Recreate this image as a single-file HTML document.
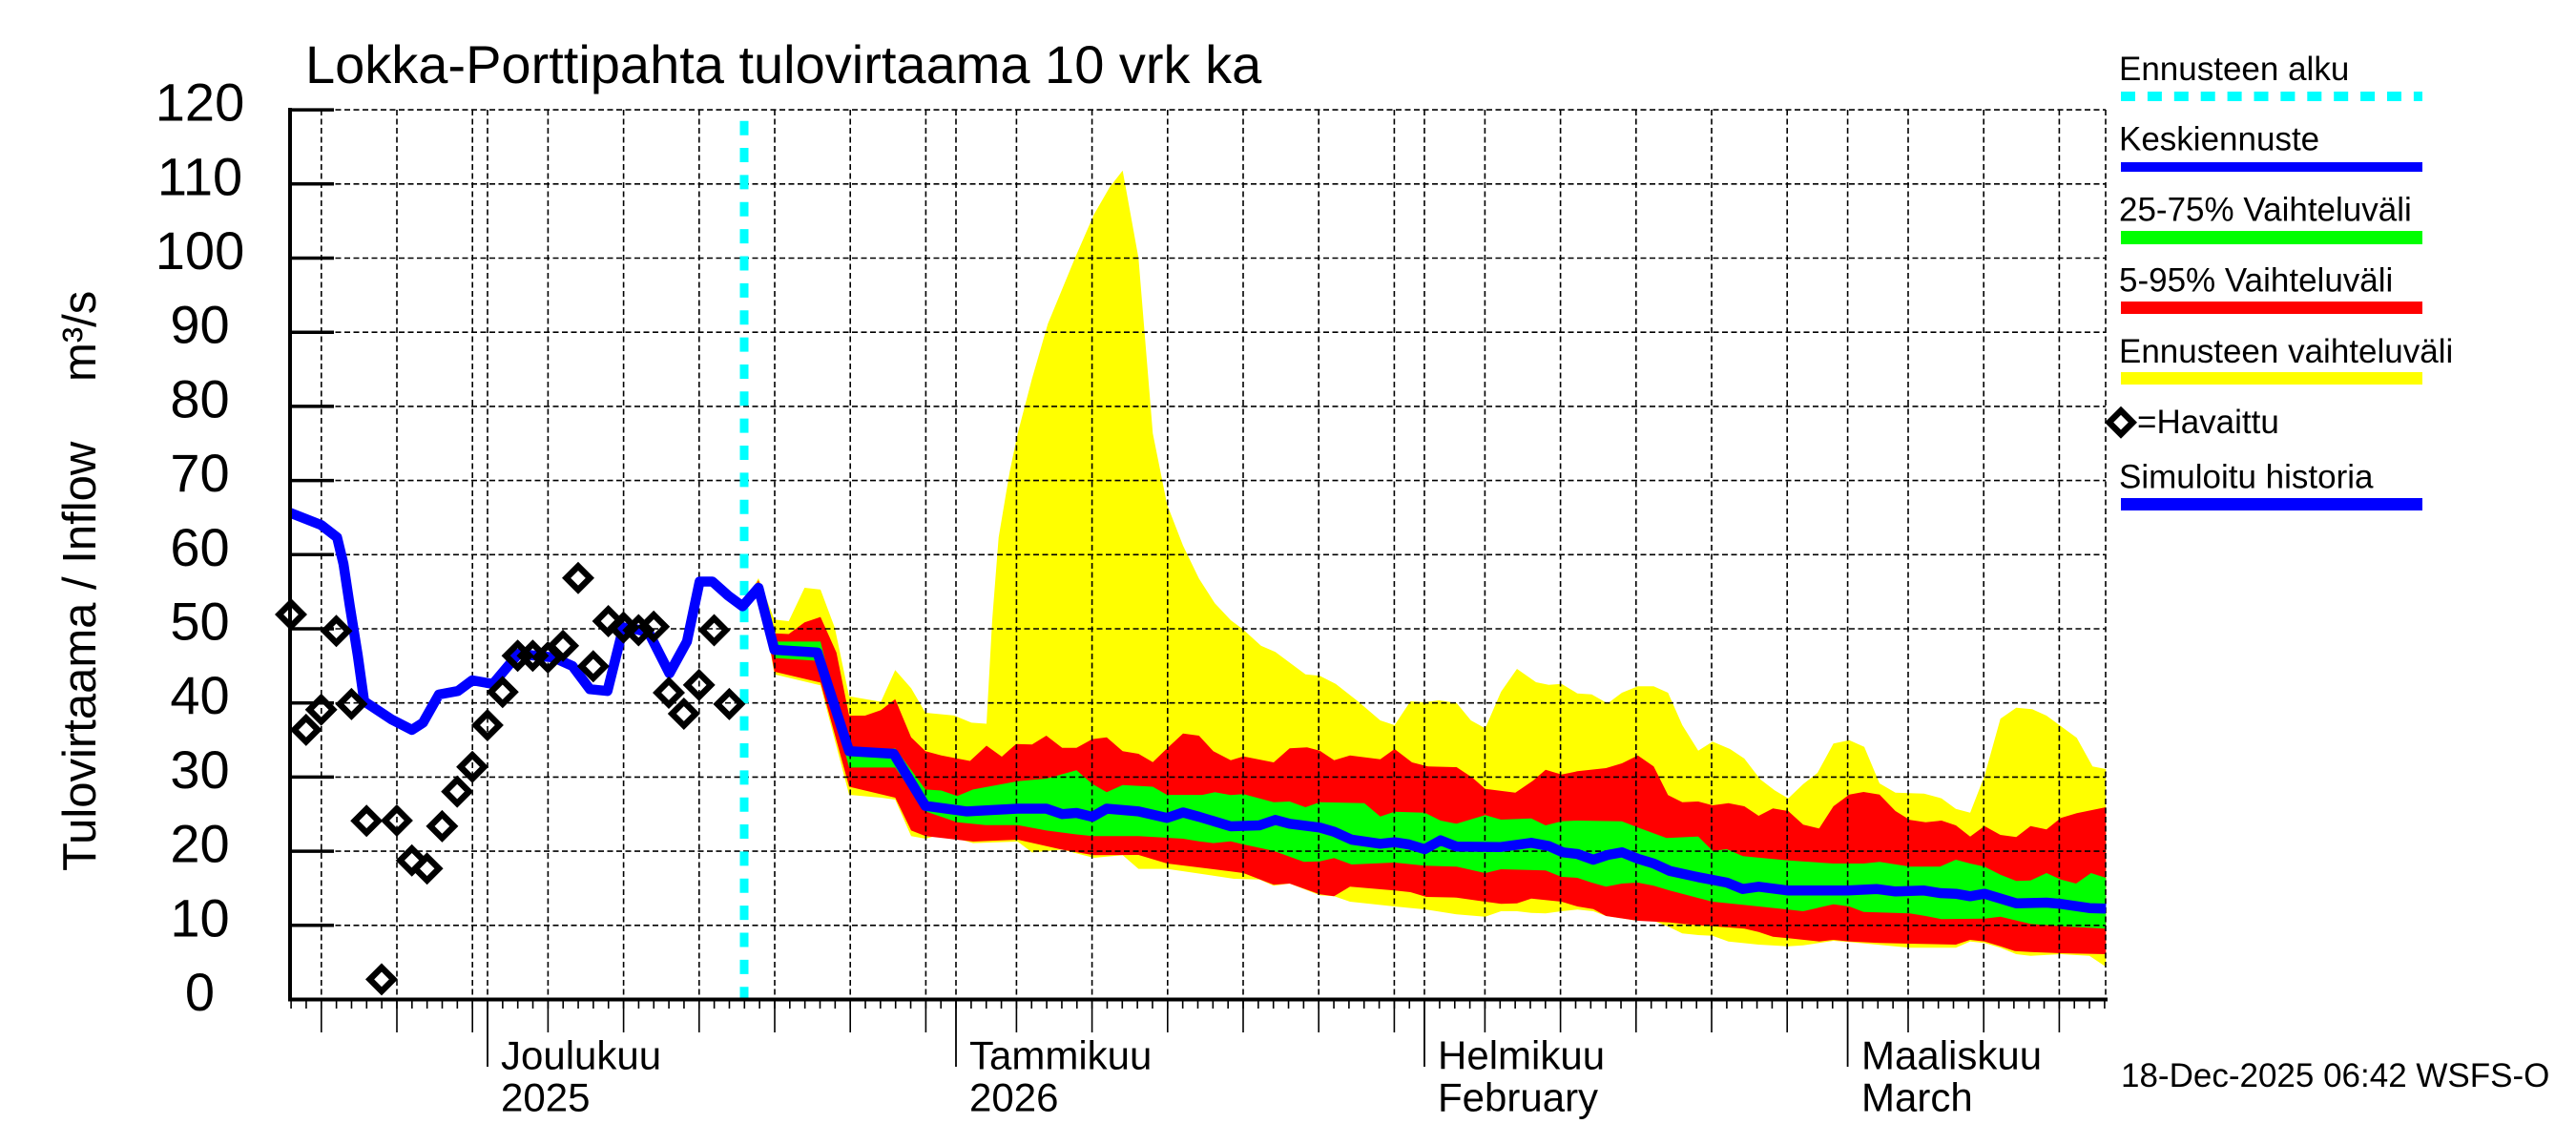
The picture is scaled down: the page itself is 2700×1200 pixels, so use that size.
<!DOCTYPE html>
<html><head><meta charset="utf-8"><style>
html,body{margin:0;padding:0;background:#fff;}
svg{display:block;}
text{font-family:"Liberation Sans",Arial,sans-serif;fill:#000;}
</style></head><body>
<svg width="2700" height="1200" viewBox="0 0 2700 1200" xmlns="http://www.w3.org/2000/svg">
<rect x="0" y="0" width="2700" height="1200" fill="#fff"/>
<defs><clipPath id="pc"><rect x="304" y="100" width="1904" height="948"/></clipPath></defs>

<!-- title -->
<text x="320" y="87" font-size="56">Lokka-Porttipahta tulovirtaama 10 vrk ka</text>

<!-- y axis title -->
<text transform="translate(100,913) rotate(-90)" font-size="49">Tulovirtaama / Inflow</text>
<text transform="translate(100,400) rotate(-90)" font-size="49">m³/s</text>

<!-- y tick labels -->
<g font-size="56" text-anchor="middle">
<text x="209.5" y="1059">0</text>
<text x="209.5" y="981.3">10</text>
<text x="209.5" y="903.6">20</text>
<text x="209.5" y="825.9">30</text>
<text x="209.5" y="748.2">40</text>
<text x="209.5" y="670.5">50</text>
<text x="209.5" y="592.8">60</text>
<text x="209.5" y="515.1">70</text>
<text x="209.5" y="437.4">80</text>
<text x="209.5" y="359.7">90</text>
<text x="209.5" y="282">100</text>
<text x="209.5" y="204.3">110</text>
<text x="209.5" y="126.6">120</text>
</g>

<g clip-path="url(#pc)">
<!-- yellow -->
<polygon fill="#ffff00" points="780,632 795,606 811.7,649.4 826.7,651 843.3,616 860,617.9 875,658 890,729.8 923.3,735.5 938.3,702.2 955,721.2 970,747 1000,749.9 1018.3,757.4 1034,758.5 1040,649.4 1046.7,563.3 1058.3,494.4 1066.7,454.3 1081.7,396.8 1098.3,339.4 1126.7,270.5 1146.7,224.6 1163.3,195.9 1176.7,178.7 1193.3,270.5 1208.3,454.3 1223.3,528.9 1240,571.9 1256.7,606.4 1273.3,632.2 1290,650 1303.3,660 1321.7,676.7 1336.7,683.3 1368.3,706.7 1383.3,708.3 1400,716.7 1423.3,735 1446.7,755 1461.7,760 1478.3,735 1493.3,736 1508.3,734 1526.7,736.7 1541.7,755 1556.7,763.3 1573.3,725 1590,701 1610,715 1623.3,717.7 1636.7,716.7 1653.3,726.7 1668.3,727.7 1685,737.3 1700,726 1716.7,719.3 1733.3,719.3 1748.3,726 1763.3,760 1780,786.7 1795,777.3 1813.3,785 1828.3,795 1845,816.7 1860,828.3 1874.3,836.7 1890,821.7 1905,810 1921.7,779.3 1938.3,775.7 1954,782.7 1970,821 1986.7,830.7 2016.7,831.7 2035,836.7 2050,847.7 2065,851.7 2080,813.3 2096.7,753.3 2113.3,741.7 2130,743.3 2145,750 2160,761 2176.7,773.3 2193.3,803.3 2207.3,806 2207.3,1013.3 2190,1001.7 2160,1000 2128.3,1001.7 2113.3,1000 2096.7,993.3 2080,988.3 2065,986.7 2050,993.3 2001.7,993.3 1938.3,987.3 1921.7,986 1890,990.7 1874.3,991.7 1843.3,990 1811.7,986.7 1795,980.7 1780,980 1763.3,978.3 1750,971.7 1733.3,965 1716.7,965 1683.3,960 1670,955 1653.3,953.3 1636.7,955 1620,957.3 1605,956.7 1590,955 1573.3,955 1556.7,960.7 1526.7,958.3 1495,953.3 1461.7,950 1415,945 1398.3,939.3 1383.3,938.3 1351.7,926 1335,928.3 1320,921.7 1293.3,921 1223.3,910.6 1193.3,910.6 1176.7,896.3 1146.7,899 1113.3,890.5 1081.7,893.4 1066.7,882 1020,883.6 986.7,874.5 970,879 955,876.2 938.3,838 923.3,836 890,833 860,718.3 811.7,706.8 795,612 780,635"/>
<!-- red -->
<polygon fill="#ff0000" points="783,630 795,608 811.7,663.8 826.7,664.5 843.3,652.3 860,646.6 876.7,683.9 890,750 906.7,750 923.3,744.2 938.3,732.7 955,772.8 970,787.2 986.7,791.8 1016.7,797.5 1034,781.5 1050,793 1065,779.7 1081.7,780.3 1096.7,771 1113.3,783.8 1128.3,783.8 1145,774.6 1160,772.8 1176.7,787.2 1193.3,790 1208.3,798.7 1223.3,784.3 1240,768.8 1256.7,771 1271.7,787.2 1290,796.7 1303.3,792.7 1335,799 1351.7,784.3 1370,783.3 1383.3,786.7 1398.3,796.7 1415,791.7 1446.7,795.7 1461.7,785 1480,799 1496.7,803.3 1526.7,804 1543.3,815 1556.7,826.7 1588.3,830.7 1606.7,818.3 1620,806.7 1636.7,811.7 1653.3,808.3 1683.3,805 1700,800 1716.7,791.7 1733.3,803.3 1748.3,833.3 1763.3,840.7 1780,840 1795,844 1811.7,841.7 1828.3,845 1843.3,855 1858.3,847.3 1874.3,850 1890,864.3 1906.7,868.3 1921.7,845 1938.3,832.7 1953.3,830 1970,832.7 1986.7,850 2001.7,859.3 2018.3,861.7 2035,860 2050,865 2065,876.7 2080,865.7 2096.7,875 2113.3,877.3 2128.3,865.7 2145,869.3 2160,857.3 2176.7,852.3 2207.3,846 2207.3,1000 2160,999 2128.3,997.7 2111.7,996.7 2096.7,991.7 2080,986.7 2065,985 2050,990 2001.7,989 1970,988.3 1938.3,986.7 1921.7,985 1906.7,986.7 1874.3,983.3 1858.3,981.7 1843.3,976.7 1828.3,973.3 1795,970.7 1763.3,968.3 1750,966.7 1716.7,965 1683.3,960 1670,952.7 1653.3,950 1636.7,945 1605,941.7 1590,946.7 1573.3,947.3 1556.7,945 1526.7,940.7 1495,940 1478.3,935 1461.7,933.3 1415,929.3 1398.3,939.3 1383.3,937.3 1351.7,926 1335,927.3 1303.3,915 1290,913.3 1223.3,905 1193.3,896 1146.7,896.3 1113.3,890.5 1066.7,880 1020,882 970,876.2 955,870.4 938.3,836 890,824.5 860,715.4 811.7,704 795,612 783,633"/>
<!-- green -->
<polygon fill="#00ff00" points="785,630 795,610 811.7,672.4 860,672.4 890,793 938.3,784.3 970,827.4 986.7,828.5 1003.3,834.3 1020,827.4 1066.7,818.8 1096.7,816 1128.3,807.3 1145,821.6 1160,830.3 1176.7,822.8 1208.3,824.5 1223.3,833.1 1260,833.1 1273.3,830.3 1290,833.3 1303.3,832.3 1335,840.7 1351.7,840 1368.3,846 1383.3,840.7 1430,841.7 1446.7,855.7 1461.7,850.7 1493.3,851.7 1510,860 1526.7,863.3 1556.7,854.3 1573.3,859 1605,857.7 1620,865 1636.7,860.7 1653.3,860 1700,860.7 1716.7,867.3 1746.7,878.3 1780,876.7 1795,891.7 1810,890 1826.7,897.3 1874.3,901.7 1921.7,905 1953.3,905 1970,903.3 2001.7,908.3 2033.3,908.3 2050,901 2065,905 2080,908.3 2096.7,916.7 2113.3,923.3 2128.3,922.7 2145,915 2160,921.7 2176,926 2191.7,915 2207.3,920 2207.3,973.3 2160,970.7 2128.3,968.3 2096.7,960.7 2080,962.7 2035,963.3 2018.3,960 2001.7,957.3 1953.3,955.7 1938.3,950 1921.7,947.7 1890,955 1874.3,953.3 1826.7,948.3 1795,945 1750,933.3 1733.3,928.3 1716.7,925 1700,926 1683.3,929.3 1668.3,925 1653.3,920 1636.7,919 1620,912.3 1573.3,911 1556.7,915 1526.7,908.3 1493.3,907.3 1461.7,904 1416.7,906 1398.3,899.3 1383.3,902.7 1366.7,903.3 1335,891.7 1303.3,885 1290,881.7 1271.7,883.6 1256.7,881.8 1240,879 1193.3,876.2 1145,876.2 1128.3,874.5 1096.7,870.4 1066.7,864.7 1033,864.7 1003.3,861.8 970,850.4 938.3,804.4 890,804.4 860,692.8 811.7,689.6 795,614 785,634"/>

<!-- grid -->
<g stroke="#000" stroke-width="1.6" stroke-dasharray="6 3.5" fill="none">
<path d="M304 969.8H2207M304 892.1H2207M304 814.4H2207M304 736.7H2207M304 659H2207M304 581.3H2207M304 503.6H2207M304 425.9H2207M304 348.2H2207M304 270.5H2207M304 192.8H2207M304 115.1H2207"/>
<path d="M336.8 115V1047M416 115V1047M495.2 115V1047M511 115V1047M574.4 115V1047M653.6 115V1047M732.8 115V1047M812 115V1047M891.2 115V1047M970.4 115V1047M1002 115V1047M1065.4 115V1047M1144.6 115V1047M1223.8 115V1047M1303 115V1047M1382.2 115V1047M1461.4 115V1047M1493 115V1047M1556.4 115V1047M1635.6 115V1047M1714.8 115V1047M1794 115V1047M1873.2 115V1047M1936.6 115V1047M2000 115V1047M2079.2 115V1047M2158.4 115V1047M2207 115V1047"/>
</g>

<!-- cyan forecast start -->
<line x1="780" y1="126.7" x2="780" y2="1047" stroke="#00ffff" stroke-width="9" stroke-dasharray="15 13.36"/>

<!-- blue line -->
<polyline fill="none" stroke="#0000ff" stroke-width="10.5" stroke-linejoin="round" points="303,537 336.7,550.3 353.3,563.2 360,591 366.7,635.4 375,687 381.7,735 410,753.8 431.7,764.9 443.3,757.5 460,727.9 480,724.2 495,713 516.7,716.8 543.3,685.3 580,689 600,698 618.3,722.3 636.7,724.2 653.3,657.6 666.7,659.4 680,663 701.7,705.7 720,672.4 733.3,609.5 746.7,609.5 763.3,624.3 778.3,635.4 795,616 811.7,681 856.7,683.9 890,787.2 936.7,790 970,844.6 1013.3,850.4 1066.7,847.5 1096.7,847.5 1113.3,853.2 1128.3,852 1145,856 1160,847.5 1193.3,850.4 1223.3,857.2 1240,851.5 1256.7,856 1290,866 1320,865 1336.7,859.3 1351.7,863.3 1383.3,867.3 1398.3,871.7 1416.7,880 1446.7,884.3 1461.7,882.7 1476.7,885 1493.3,890 1510,880.7 1526.7,887.3 1573.3,887.7 1605,883.3 1623.3,886.7 1638.3,893.3 1653.3,895 1670,901 1685,896 1700,893.3 1716.7,900 1733.3,905 1750,912.7 1780,919.3 1810,925 1826.7,931.7 1843.3,929.3 1874.3,933.3 1936.7,933.3 1966.7,931.7 1986.7,934.3 2016.7,933.3 2033.3,936 2050,936.7 2065,939.3 2080,936.7 2096.7,941.7 2113.3,946.7 2145,946 2160,947.3 2190,951.7 2207.3,952.3"/>
</g>

<!-- observed diamonds -->
<g fill="none" stroke="#000" stroke-width="6.5" stroke-linejoin="miter">
<path d="M305 631.6l12.4 12.4l-12.4 12.4l-12.4 -12.4z"/>
<path d="M320.8 752.5l12.4 12.4l-12.4 12.4l-12.4 -12.4z"/>
<path d="M336.7 731.4l12.4 12.4l-12.4 12.4l-12.4 -12.4z"/>
<path d="M352.5 648.9l12.4 12.4l-12.4 12.4l-12.4 -12.4z"/>
<path d="M368.4 725.5l12.4 12.4l-12.4 12.4l-12.4 -12.4z"/>
<path d="M384.2 847.9l12.4 12.4l-12.4 12.4l-12.4 -12.4z"/>
<path d="M400 1014l12.4 12.4l-12.4 12.4l-12.4 -12.4z"/>
<path d="M415.9 847.6l12.4 12.4l-12.4 12.4l-12.4 -12.4z"/>
<path d="M431.7 889.4l12.4 12.4l-12.4 12.4l-12.4 -12.4z"/>
<path d="M447.6 897.9l12.4 12.4l-12.4 12.4l-12.4 -12.4z"/>
<path d="M463.4 853.5l12.4 12.4l-12.4 12.4l-12.4 -12.4z"/>
<path d="M479.2 817.2l12.4 12.4l-12.4 12.4l-12.4 -12.4z"/>
<path d="M495.1 791.3l12.4 12.4l-12.4 12.4l-12.4 -12.4z"/>
<path d="M510.9 747.6l12.4 12.4l-12.4 12.4l-12.4 -12.4z"/>
<path d="M526.8 712.9l12.4 12.4l-12.4 12.4l-12.4 -12.4z"/>
<path d="M542.6 674.8l12.4 12.4l-12.4 12.4l-12.4 -12.4z"/>
<path d="M558.4 674.8l12.4 12.4l-12.4 12.4l-12.4 -12.4z"/>
<path d="M574.3 676.6l12.4 12.4l-12.4 12.4l-12.4 -12.4z"/>
<path d="M590.1 664.4l12.4 12.4l-12.4 12.4l-12.4 -12.4z"/>
<path d="M606 593.4l12.4 12.4l-12.4 12.4l-12.4 -12.4z"/>
<path d="M621.8 685.9l12.4 12.4l-12.4 12.4l-12.4 -12.4z"/>
<path d="M637.6 638.6l12.4 12.4l-12.4 12.4l-12.4 -12.4z"/>
<path d="M653.5 645.2l12.4 12.4l-12.4 12.4l-12.4 -12.4z"/>
<path d="M669.3 648.1l12.4 12.4l-12.4 12.4l-12.4 -12.4z"/>
<path d="M685.2 644.4l12.4 12.4l-12.4 12.4l-12.4 -12.4z"/>
<path d="M701 713.6l12.4 12.4l-12.4 12.4l-12.4 -12.4z"/>
<path d="M716.8 735.6l12.4 12.4l-12.4 12.4l-12.4 -12.4z"/>
<path d="M732.7 705.5l12.4 12.4l-12.4 12.4l-12.4 -12.4z"/>
<path d="M748.5 648.1l12.4 12.4l-12.4 12.4l-12.4 -12.4z"/>
<path d="M764.4 725.5l12.4 12.4l-12.4 12.4l-12.4 -12.4z"/>
</g>

<!-- axes -->
<g stroke="#000" fill="none">
<line x1="304" y1="113" x2="304" y2="1049.5" stroke-width="4"/>
<line x1="302" y1="1047.5" x2="2209" y2="1047.5" stroke-width="4"/>
<path stroke-width="3.5" d="M304 969.8H350M304 892.1H350M304 814.4H350M304 736.7H350M304 659H350M304 581.3H350M304 503.6H350M304 425.9H350M304 348.2H350M304 270.5H350M304 192.8H350M304 115.1H350"/>
<line x1="304.3" y1="1052" x2="2208" y2="1052" stroke-width="10" stroke-dasharray="1.6 14.24"/>
<path stroke-width="1.6" d="M336.8 1047V1082M416 1047V1082M495.2 1047V1082M574.4 1047V1082M653.6 1047V1082M732.8 1047V1082M812 1047V1082M891.2 1047V1082M970.4 1047V1082M1065.4 1047V1082M1144.6 1047V1082M1223.8 1047V1082M1303 1047V1082M1382.2 1047V1082M1461.4 1047V1082M1556.4 1047V1082M1635.6 1047V1082M1714.8 1047V1082M1794 1047V1082M1873.2 1047V1082M2000 1047V1082M2079.2 1047V1082M2158.4 1047V1082"/>
<path stroke-width="1.8" d="M511 1047V1118M1002 1047V1118M1493 1047V1118M1936.6 1047V1118"/>
</g>

<!-- month labels -->
<g font-size="42">
<text x="525" y="1120.7">Joulukuu</text>
<text x="525" y="1164.3">2025</text>
<text x="1016" y="1120.7">Tammikuu</text>
<text x="1016" y="1164.3">2026</text>
<text x="1507" y="1120.7">Helmikuu</text>
<text x="1507" y="1164.3">February</text>
<text x="1951" y="1120.7">Maaliskuu</text>
<text x="1951" y="1164.3">March</text>
</g>

<text x="2223" y="1139" font-size="35">18-Dec-2025 06:42 WSFS-O</text>

<!-- legend -->
<g font-size="35">
<text x="2221" y="84">Ennusteen alku</text>
<text x="2221" y="157.7">Keskiennuste</text>
<text x="2221" y="231.7">25-75% Vaihteluväli</text>
<text x="2221" y="305.7">5-95% Vaihteluväli</text>
<text x="2221" y="380">Ennusteen vaihteluväli</text>
<text x="2240" y="454">=Havaittu</text>
<text x="2221" y="511.7">Simuloitu historia</text>
</g>
<line x1="2223" y1="101" x2="2539" y2="101" stroke="#00ffff" stroke-width="10" stroke-dasharray="15 12.9"/>
<line x1="2223" y1="175" x2="2539" y2="175" stroke="#0000ff" stroke-width="10"/>
<line x1="2223" y1="249" x2="2539" y2="249" stroke="#00ff00" stroke-width="14"/>
<line x1="2223" y1="322.5" x2="2539" y2="322.5" stroke="#ff0000" stroke-width="13"/>
<line x1="2223" y1="396.5" x2="2539" y2="396.5" stroke="#ffff00" stroke-width="13"/>
<path d="M2223 430.3l12.4 12.4l-12.4 12.4l-12.4 -12.4z" fill="none" stroke="#000" stroke-width="6.5"/>
<line x1="2223" y1="528.5" x2="2539" y2="528.5" stroke="#0000ff" stroke-width="13"/>
</svg>
</body></html>
